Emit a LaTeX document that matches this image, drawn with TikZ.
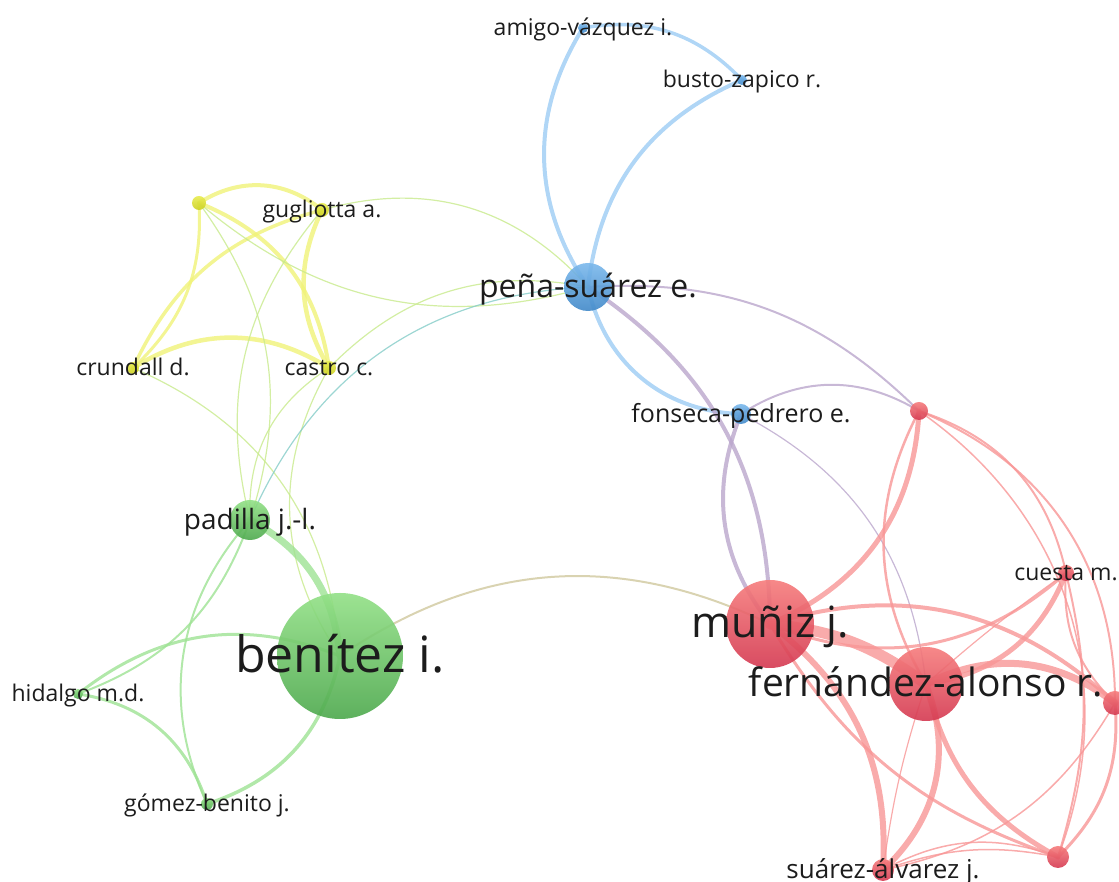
\documentclass[tikz,border=0pt]{standalone}
\usepackage{fontspec}
\setmainfont{Open Sans}
\usepackage{xcolor}
\usetikzlibrary{positioning}
\pgfdeclarelayer{edges}
\pgfsetlayers{edges,main}

\definecolor{txt}{RGB}{28,28,28}
\definecolor{blueA}{RGB}{122,184,236}
\definecolor{blueB}{RGB}{64,136,200}
\definecolor{greenA}{RGB}{146,224,134}
\definecolor{greenB}{RGB}{76,168,76}
\definecolor{yellowA}{RGB}{232,236,80}
\definecolor{yellowB}{RGB}{204,208,30}
\definecolor{redA}{RGB}{246,124,124}
\definecolor{redB}{RGB}{212,56,80}
\definecolor{blueE}{RGB}{156,204,244}
\definecolor{greenE}{RGB}{158,226,148}
\definecolor{yellowE}{RGB}{240,242,120}
\definecolor{redE}{RGB}{248,150,150}
\definecolor{purpE}{RGB}{186,166,204}
\definecolor{tealE}{RGB}{132,204,200}
\definecolor{ygE}{RGB}{200,234,140}
\definecolor{tanE}{RGB}{208,200,158}

\begin{document}
\begin{tikzpicture}
	[
	   x = 1pt, y = 1pt,
	   vnode/.style = {circle, inner sep = 0pt, minimum size = #1, fill opacity = 0.9},
	   bN/.style = {top color = blueA, bottom color = blueB},
	   gN/.style = {top color = greenA, bottom color = greenB},
	   yN/.style = {top color = yellowA, bottom color = yellowB},
	   rN/.style = {top color = redA, bottom color = redB},
	   lbl/.style = {inner sep = 0pt, text = txt, text opacity = 1, font = \fontsize{#1}{#1}\selectfont, text height = 0.75*#1pt, text depth = 0.1*#1pt},
	   edge/.style = {draw opacity = 0.8, line cap = round},
	]
	\useasboundingbox (0,0) rectangle (1119,882);

	% blue cluster
	\node [vnode=10pt, bN, label={[lbl=23]center:amigo-vázquez i.}] (av) at (583,854) {};
	\node [vnode=10pt, bN, label={[lbl=23]center:busto-zapico r.}] (bz) at (742,802) {};
	\node [vnode=48pt, bN, label={[lbl=32]center:peña-suárez e.}] (ps) at (588,595) {};
	\node [vnode=20pt, bN, label={[lbl=25]center:fonseca-pedrero e.}] (fp) at (741,468) {};

	% yellow cluster
	\node [vnode=14pt, yN, label={[lbl=23]center:gugliotta a.}] (ga) at (322,672) {};
	\node [vnode=14pt, yN] (y1) at (199,679) {};
	\node [vnode=12pt, yN, label={[lbl=23]center:crundall d.}] (cd) at (133,514) {};
	\node [vnode=14pt, yN, label={[lbl=23]center:castro c.}] (cc) at (329,514) {};

	% green cluster
	\node [vnode=40pt, gN, label={[lbl=28]center:padilla j.-l.}] (pj) at (250,362) {};
	\node [vnode=126pt, gN, label={[lbl=50]center:benítez i.}] (bi) at (340,226) {};
	\node [vnode=10pt, gN, label={[lbl=23]center:hidalgo m.d.}] (hm) at (78,188) {};
	\node [vnode=12pt, gN, label={[lbl=23]center:gómez-benito j.}] (gb) at (207,78) {};

	% red cluster
	\node [vnode=88pt, rN, label={[lbl=43]center:muñiz j.}] (mj) at (770,258) {};
	\node [vnode=74pt, rN, label={[lbl=39]center:fernández-alonso r.}] (fa) at (926,198) {};
	\node [vnode=16pt, rN, label={[lbl=23]center:cuesta m.}] (cm) at (1066,309) {};
	\node [vnode=18pt, rN] (r1) at (919,471) {};
	\node [vnode=24pt, rN] (r2) at (1115,179) {};
	\node [vnode=22pt, rN] (r3) at (1058,25) {};
	\node [vnode=22pt, rN, label={[lbl=26]center:suárez-álvarez j.}] (sa) at (883,12) {};

	% links, bend angle > 0 is bend left
	\begin{pgfonlayer}{edges}
	\foreach \a/\b/\ang/\w in {ps/av/33/4, ps/bz/30/4, av/bz/28/3.5, ps/fp/-38/4}
		\draw [edge, blueE, line width=\w pt] (\a.center) to [bend left=\ang] (\b.center);
	\foreach \a/\b/\ang/\w in {ps/mj/28/4, fp/mj/-30/4, fp/fa/28/1.2, ps/r1/24/2, fp/r1/32/2}
		\draw [edge, purpE, line width=\w pt] (\a.center) to [bend left=\ang] (\b.center);
	\foreach \a/\b/\ang/\w in {y1/ga/36/4, y1/cd/25/3, ga/cd/-25/3.5, cd/cc/32/4.5, ga/cc/-28/4.5, y1/cc/30/4}
		\draw [edge, yellowE, line width=\w pt] (\a.center) to [bend left=\ang] (\b.center);
	\foreach \a/\b/\ang/\w in {y1/pj/27/1.2, ga/pj/-27/1.2, cc/pj/-30/1.2, cc/bi/-32/1.2, cd/bi/31/1.2, cc/ps/28/1.2, y1/ps/-28/1.2, ga/ps/32/1.2}
		\draw [edge, ygE, line width=\w pt] (\a.center) to [bend left=\ang] (\b.center);
	\draw [edge, tealE, line width=1.2pt] (pj.center) to [bend left=32] (ps.center);
	\draw [edge, tanE, line width=2pt] (bi.center) to [bend left=30] (mj.center);
	\foreach \a/\b/\ang/\w in {pj/bi/28/7, bi/hm/-30/3, bi/gb/30/3.5, pj/hm/25/2, pj/gb/-33/2, hm/gb/32/3}
		\draw [edge, greenE, line width=\w pt] (\a.center) to [bend left=\ang] (\b.center);
	\foreach \a/\b/\ang/\w in {mj/fa/15/11, mj/r1/-32/5, mj/cm/-32/3, fa/cm/-30/5, mj/r2/30/4, fa/r2/32/7, mj/sa/28/6, mj/r3/-20/3, fa/sa/34/6, fa/sa/-5/1.2, fa/r3/-24/5, sa/r3/15/1.5, sa/r3/24/1.5, sa/r2/-24/1.5, r3/r2/-25/3, cm/r2/-25/2, cm/r3/15/2, r1/r2/34/2, r1/cm/30/2, r1/r3/38/1.5, r1/fa/-29/2.5, fa/cm/3/1.2}
		\draw [edge, redE, line width=\w pt] (\a.center) to [bend left=\ang] (\b.center);
	\end{pgfonlayer}
\end{tikzpicture}
\end{document}
